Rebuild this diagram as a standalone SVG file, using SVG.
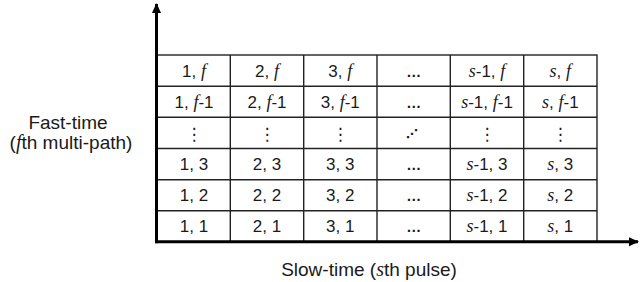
<svg xmlns="http://www.w3.org/2000/svg" width="640" height="282" viewBox="0 0 640 282">
<style>
.cell{font-family:"Liberation Sans",Arial,sans-serif;font-size:17px;fill:#1a1a1a;text-anchor:middle}
.it{font-family:"Liberation Serif","Times New Roman",serif;font-style:italic;font-size:18px}
.ell{font-family:"Liberation Sans",Arial,sans-serif;font-size:15px;font-weight:bold;fill:#1a1a1a;text-anchor:middle}
.dots{font-family:"DejaVu Sans",sans-serif;font-size:17px;fill:#1a1a1a;text-anchor:middle}
.lab{font-family:"Liberation Sans",Arial,sans-serif;font-size:19px;fill:#1a1a1a;text-anchor:middle}
.grid{stroke:#222;stroke-width:1.4;fill:none}
.axis{stroke:#000;stroke-width:3;fill:none}
</style>
<defs>
<marker id="ah" markerWidth="10" markerHeight="10" viewBox="0 0 10 10" refX="9" refY="5" orient="auto" markerUnits="userSpaceOnUse">
<path d="M0,0.5 L10,5 L0,9.5 Z" fill="#000"/>
</marker>
</defs>
<g id="table">
<rect class="grid" x="157" y="55" width="440" height="187"/>
<path class="grid" d="M230.3,55V242M303.7,55V242M377,55V242M450.3,55V242M523.7,55V242M157,86.2H597M157,117.3H597M157,148.5H597M157,179.7H597M157,210.8H597"/>
</g>
<g id="row-f">
<text class="cell" x="194" y="77">1, <tspan class="it">f</tspan></text>
<text class="cell" x="267" y="77">2, <tspan class="it">f</tspan></text>
<text class="cell" x="340.3" y="77">3, <tspan class="it">f</tspan></text>
<text class="ell" x="413.7" y="77">…</text>
<text class="cell" x="487" y="77"><tspan class="it">s</tspan>-1, <tspan class="it">f</tspan></text>
<text class="cell" x="560.3" y="77"><tspan class="it">s</tspan>, <tspan class="it">f</tspan></text>
</g>
<g id="row-f-1">
<text class="cell" x="194" y="108">1, <tspan class="it">f</tspan>-1</text>
<text class="cell" x="267" y="108">2, <tspan class="it">f</tspan>-1</text>
<text class="cell" x="340.3" y="108">3, <tspan class="it">f</tspan>-1</text>
<text class="ell" x="413.7" y="108">…</text>
<text class="cell" x="487" y="108"><tspan class="it">s</tspan>-1, <tspan class="it">f</tspan>-1</text>
<text class="cell" x="560.3" y="108"><tspan class="it">s</tspan>, <tspan class="it">f</tspan>-1</text>
</g>
<g id="row-dots">
<text class="dots" x="194" y="140">⋮</text>
<text class="dots" x="267" y="140">⋮</text>
<text class="dots" x="340.3" y="140">⋮</text>
<text class="dots" x="412" y="138" style="font-size:12px;font-weight:bold">⋰</text>
<text class="dots" x="487" y="140">⋮</text>
<text class="dots" x="560.3" y="140">⋮</text>
</g>
<g id="row-3">
<text class="cell" x="194" y="170">1, 3</text>
<text class="cell" x="267" y="170">2, 3</text>
<text class="cell" x="340.3" y="170">3, 3</text>
<text class="ell" x="413.7" y="170">…</text>
<text class="cell" x="487" y="170"><tspan class="it">s</tspan>-1, 3</text>
<text class="cell" x="560.3" y="170"><tspan class="it">s</tspan>, 3</text>
</g>
<g id="row-2">
<text class="cell" x="194" y="201">1, 2</text>
<text class="cell" x="267" y="201">2, 2</text>
<text class="cell" x="340.3" y="201">3, 2</text>
<text class="ell" x="413.7" y="201">…</text>
<text class="cell" x="487" y="201"><tspan class="it">s</tspan>-1, 2</text>
<text class="cell" x="560.3" y="201"><tspan class="it">s</tspan>, 2</text>
</g>
<g id="row-1">
<text class="cell" x="194" y="232">1, 1</text>
<text class="cell" x="267" y="232">2, 1</text>
<text class="cell" x="340.3" y="232">3, 1</text>
<text class="ell" x="413.7" y="232">…</text>
<text class="cell" x="487" y="232"><tspan class="it">s</tspan>-1, 1</text>
<text class="cell" x="560.3" y="232"><tspan class="it">s</tspan>, 1</text>
</g>
<g id="axes">
<path class="axis" d="M156.5,243.2V4" marker-end="url(#ah)"/>
<path class="axis" d="M155,241.7H638" marker-end="url(#ah)"/>
</g>
<g id="labels">
<text class="lab" x="68" y="129">Fast-time</text>
<text class="lab" x="71" y="149">(<tspan class="it" style="font-size:20px">f</tspan>th multi-path)</text>
<text class="lab" x="369" y="276">Slow-time (<tspan class="it" style="font-size:20px">s</tspan>th pulse)</text>
</g>
</svg>
